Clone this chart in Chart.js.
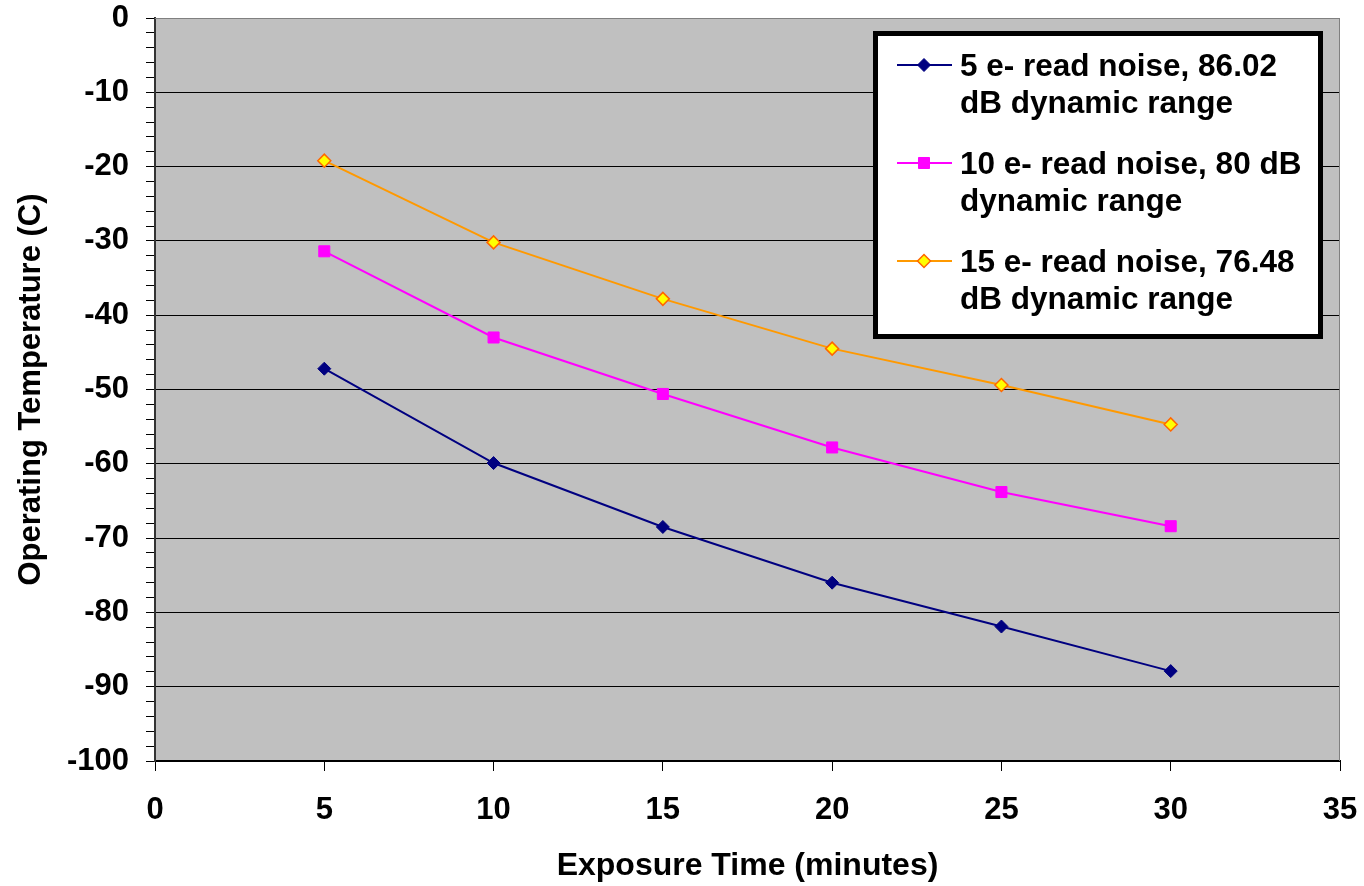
<!DOCTYPE html>
<html>
<head>
<meta charset="utf-8">
<script src="https://cdn.jsdelivr.net/npm/chart.js@4/dist/chart.umd.min.js"></script>
<style>
  html, body { margin: 0; padding: 0; background: #fff; }
  #wrap { width: 1364px; height: 886px; position: relative; }
</style>
</head>
<body>
<div id="wrap"><canvas id="chart" width="1364" height="886"></canvas></div>
<script>
const exposure = [5, 10, 15, 20, 25, 30];
const temp5e = [-47.2, -59.9, -68.5, -76.0, -81.9, -87.9];
const temp10e = [-31.4, -43.0, -50.6, -57.8, -63.8, -68.4];
const temp15e = [-19.2, -30.2, -37.8, -44.5, -49.4, -54.7];
const seriesNames = [
    ["5 e- read noise, 86.02", "dB dynamic range"],
    ["10 e- read noise, 80 dB", "dynamic range"],
    ["15 e- read noise, 76.48", "dB dynamic range"]
];

const FONT = "'Liberation Sans', Arial, sans-serif";

function pts(values) {
    return exposure.map((x, i) => ({ x: x, y: values[i] }));
}

// grey plot background and the top/right frame
const plotBg = {
    id: 'plotBg',
    beforeDraw(chart) {
        const a = chart.chartArea;
        const ctx = chart.ctx;
        ctx.save();
        ctx.fillStyle = '#c0c0c0';
        ctx.fillRect(a.left, a.top, a.right - a.left, a.bottom - a.top);
        ctx.restore();
    },
    afterDraw(chart) {
        const a = chart.chartArea;
        const ctx = chart.ctx;
        ctx.save();
        ctx.strokeStyle = '#808080';
        ctx.lineWidth = 1;
        ctx.beginPath();
        ctx.moveTo(a.left, a.top + 0.5);
        ctx.lineTo(a.right - 0.5, a.top + 0.5);
        ctx.lineTo(a.right - 0.5, a.bottom);
        ctx.stroke();
        ctx.restore();
    }
};

function drawMarker(ctx, style, r, x, y) {
    if (style === 'rect') {
        const s = Math.SQRT1_2 * r;
        ctx.rect(x - s, y - s, 2 * s, 2 * s);
    } else {
        ctx.moveTo(x - r, y);
        ctx.lineTo(x, y - r);
        ctx.lineTo(x + r, y);
        ctx.lineTo(x, y + r);
        ctx.closePath();
    }
}

// boxed legend with two-line labels
const boxLegend = {
    id: 'boxLegend',
    afterDraw(chart) {
        const ctx = chart.ctx;
        ctx.save();
        ctx.fillStyle = '#fff';
        ctx.fillRect(875, 33, 446, 304);
        ctx.strokeStyle = '#000';
        ctx.lineWidth = 5;
        ctx.strokeRect(875.5, 33.5, 445, 303);

        ctx.font = 'bold 31.5px ' + FONT;
        ctx.textBaseline = 'middle';
        ctx.textAlign = 'left';
        chart.data.datasets.forEach((ds, i) => {
            const y = 65 + i * 98;
            ctx.strokeStyle = ds.borderColor;
            ctx.lineWidth = 2;
            ctx.beginPath();
            ctx.moveTo(897, y);
            ctx.lineTo(952, y);
            ctx.stroke();
            ctx.fillStyle = ds.pointBackgroundColor;
            ctx.strokeStyle = ds.pointBorderColor;
            ctx.lineWidth = ds.pointBorderWidth;
            ctx.beginPath();
            drawMarker(ctx, ds.pointStyle, ds.pointRadius, 924, y);
            ctx.fill();
            ctx.stroke();
            ctx.fillStyle = '#000';
            seriesNames[i].forEach((line, j) => {
                ctx.fillText(line, 960, y + 2 + j * 37);
            });
        });
        ctx.restore();
    }
};

new Chart(document.getElementById('chart'), {
    type: 'line',
    data: {
        datasets: [
            {
                label: seriesNames[0].join(' '),
                data: pts(temp5e),
                borderColor: '#000080',
                borderWidth: 2,
                pointStyle: 'rectRot',
                pointRadius: 6.5,
                pointBackgroundColor: '#000080',
                pointBorderColor: '#000080',
                pointBorderWidth: 1
            },
            {
                label: seriesNames[1].join(' '),
                data: pts(temp10e),
                borderColor: '#ff00ff',
                borderWidth: 2,
                pointStyle: 'rect',
                pointRadius: 7.8,
                pointBackgroundColor: '#ff00ff',
                pointBorderColor: '#ff00ff',
                pointBorderWidth: 1
            },
            {
                label: seriesNames[2].join(' '),
                data: pts(temp15e),
                borderColor: '#ff9900',
                borderWidth: 2,
                pointStyle: 'rectRot',
                pointRadius: 6.5,
                pointBackgroundColor: '#ffff00',
                pointBorderColor: '#ff6600',
                pointBorderWidth: 1.5
            }
        ]
    },
    options: {
        responsive: false,
        animation: false,
        layout: { padding: { left: 0, top: 18, right: 24, bottom: 0 } },
        plugins: {
            legend: { display: false },
            tooltip: { enabled: false }
        },
        scales: {
            x: {
                type: 'linear',
                min: 0,
                max: 35,
                ticks: {
                    stepSize: 5,
                    color: '#000',
                    padding: 21,
                    font: { family: FONT, size: 31, weight: 'bold' }
                },
                grid: {
                    color: 'rgba(0,0,0,0)',
                    tickColor: '#000',
                    tickLength: 10,
                    lineWidth: 1
                },
                border: { color: '#000', width: 2 },
                title: {
                    display: true,
                    text: 'Exposure Time (minutes)',
                    color: '#000',
                    padding: { top: 0, bottom: 1 },
                    font: { family: FONT, size: 32, weight: 'bold' }
                },
                afterFit(scale) {
                    scale.height = 125;
                    scale.paddingLeft = 0;
                    scale.paddingRight = 0;
                }
            },
            y: {
                min: -100,
                max: 0,
                ticks: {
                    stepSize: 2,
                    color: '#000',
                    padding: 17,
                    autoSkip: false,
                    font: { family: FONT, size: 31, weight: 'bold' },
                    callback: (v) => (v % 10 === 0 ? v : '')
                },
                grid: {
                    color: (c) => {
                        const v = c.tick.value;
                        if (v === 0) return '#808080';
                        return v % 10 === 0 ? '#000' : 'rgba(0,0,0,0)';
                    },
                    tickColor: '#000',
                    tickLength: 9,
                    lineWidth: 1
                },
                border: { color: '#333', width: 2 },
                title: {
                    display: true,
                    text: 'Operating Temperature (C)',
                    color: '#000',
                    padding: { top: 13, bottom: 0 },
                    font: { family: FONT, size: 31, weight: 'bold' }
                },
                afterFit(scale) {
                    scale.width = 155;
                    scale.paddingTop = 0;
                    scale.paddingBottom = 0;
                }
            }
        }
    },
    plugins: [plotBg, boxLegend]
});
</script>
</body>
</html>
